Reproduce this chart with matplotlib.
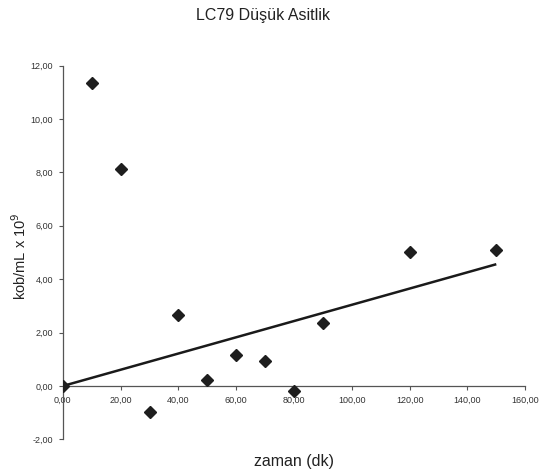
import matplotlib
matplotlib.use("Agg")
import matplotlib.pyplot as plt
from matplotlib.ticker import FuncFormatter, MultipleLocator

# zaman (dk) vs. kob/mL x 10^9
zaman = [0, 10, 20, 30, 40, 50, 60, 70, 80, 90, 120, 150]
kob = [0.00, 11.35, 8.13, -0.97, 2.66, 0.22, 1.16, 0.94, -0.19, 2.36, 5.02, 5.10]
# linear trend through the origin
trend_slope = 0.0304

plt.rcParams['font.family'] = ['Liberation Sans', 'DejaVu Sans']

fig = plt.figure(figsize=(5.42, 4.75), dpi=100)
ax = fig.add_axes([0.116, 0.075, 0.853, 0.787])

x_fit = [0, max(zaman)]
ax.plot(x_fit, [trend_slope * x for x in x_fit], color='#1a1a1a', lw=1.8,
        solid_capstyle='butt', zorder=2)
ax.plot(zaman, kob, linestyle='none', marker='D', markersize=6.5,
        color='#1e1e1e', zorder=3)

ax.set_xlim(0, 160)
ax.set_ylim(-2, 12)
ax.xaxis.set_major_locator(MultipleLocator(20))
ax.yaxis.set_major_locator(MultipleLocator(2))
comma = FuncFormatter(lambda v, p: f"{v:.2f}".replace('.', ','))
ax.xaxis.set_major_formatter(comma)
ax.yaxis.set_major_formatter(comma)

for s in ('top', 'right'):
    ax.spines[s].set_visible(False)
ax.spines['bottom'].set_position(('data', 0))
for s in ('left', 'bottom'):
    ax.spines[s].set_color('#555555')
    ax.spines[s].set_linewidth(0.9)
ax.tick_params(axis='both', direction='out', length=3, width=0.8,
               color='#555555', labelsize=6.5, labelcolor='#333333', pad=4)

fig.text(0.485, 0.968, "LC79 Düşük Asitlik", ha='center', va='center',
         fontsize=11.5, color='#222222')
fig.text(0.543, 0.029, "zaman (dk)", ha='center', va='center',
         fontsize=11.5, color='#222222')
fig.text(0.036, 0.461, "kob/mL x 10$^{9}$", ha='center', va='center',
         rotation=90, fontsize=10.5, color='#222222')

fig.savefig("out.png", dpi=100, facecolor='white')
